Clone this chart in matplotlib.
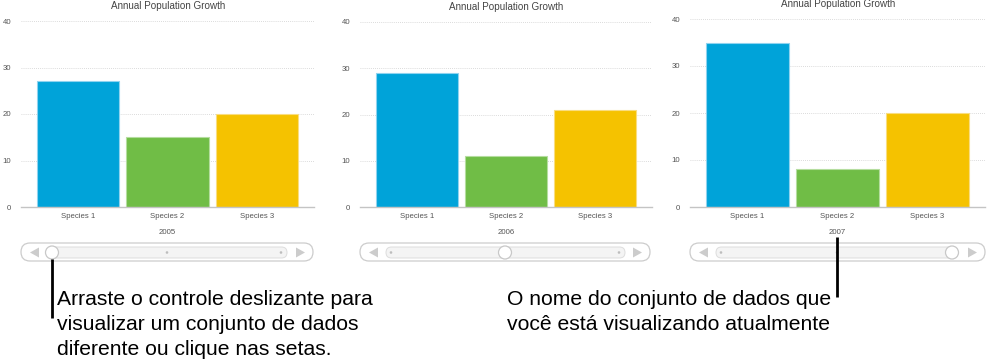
import matplotlib.pyplot as plt
from matplotlib.patches import FancyBboxPatch, Circle, Polygon

plt.rcParams['font.family'] = ['Liberation Sans', 'DejaVu Sans']

W, H = 992, 364

species = ["Species 1", "Species 2", "Species 3"]
years = ["2005", "2006", "2007"]
growth = [
    [27, 15, 20],
    [29, 11, 21],
    [35, 8, 20],
]
y_ticks = [0, 10, 20, 30, 40]
title = "Annual Population Growth"
colors = ["#00a3d9", "#70bd46", "#f5c200"]
edges = ["#8fd3ef", "#b5dd9f", "#f9dd80"]

# panel boxes in pixels: left, right, top(y of 40), bottom(y of 0), title y
panels = [
    (21, 314, 21, 207, 6),
    (360, 652, 22, 207, 7),
    (690, 985, 19, 207, 4),
]
# slider: outer left/right, track left/right, knob x, dots, year x
sliders = [
    (21, 313, 48, 287, 52, [167, 281], 167),
    (360, 650, 386, 625, 505, [391, 619], 506),
    (690, 985, 716, 958, 952, [721, 837], 837),
]


def fig_rect(l, r, t, b):
    return [l / W, 1 - b / H, (r - l) / W, (b - t) / H]


fig = plt.figure(figsize=(W / 100, H / 100), dpi=100)

for i, (l, r, t, b, ty) in enumerate(panels):
    ax = fig.add_axes(fig_rect(l, r, t, b))
    ax.bar(range(3), growth[i], width=0.92, color=colors, edgecolor=edges,
           linewidth=0.8, zorder=3)
    ax.set_xlim(-0.64, 2.64)
    ax.set_ylim(0, 40)
    ax.set_yticks(y_ticks)
    ax.set_xticks(range(3))
    ax.set_xticklabels(species)
    ax.tick_params(length=0, labelsize=5.6, colors="#555555")
    ax.tick_params(axis="y", pad=7)
    ax.tick_params(axis="x", pad=4)
    ax.grid(axis="y", linestyle=(0, (1, 1.5)), color="#cfcfcf", linewidth=0.6, zorder=0)
    for s in ["top", "left", "right"]:
        ax.spines[s].set_visible(False)
    ax.spines["bottom"].set_color("#c4c4c4")
    ax.spines["bottom"].set_linewidth(1.0)
    ax.spines["bottom"].set_zorder(4)
    ax.set_facecolor("none")

ov = fig.add_axes([0, 0, 1, 1])
ov.set_xlim(0, W)
ov.set_ylim(H, 0)
ov.axis("off")
ov.set_facecolor("none")

for i, (l, r, t, b, ty) in enumerate(panels):
    ov.text((l + r) / 2 + 0.5, ty, title, ha="center", va="center",
            fontsize=7.1, color="#444444")

for i, (ol, orr, tl, tr, kx, dots, yx) in enumerate(sliders):
    ov.text(yx, 232, years[i], ha="center", va="center", fontsize=5.6, color="#555555")
    ov.add_patch(FancyBboxPatch((ol, 243), orr - ol, 18,
                                boxstyle="round,pad=0,rounding_size=9",
                                facecolor="white", edgecolor="#cccccc", linewidth=0.9))
    ov.add_patch(FancyBboxPatch((tl, 247), tr - tl, 11,
                                boxstyle="round,pad=0,rounding_size=5.5",
                                facecolor="#f4f4f4", edgecolor="#dddddd", linewidth=0.7))
    for d in dots:
        ov.add_patch(Circle((d, 252.5), 1.3, facecolor="#bdbdbd", edgecolor="none"))
    ax_l = ol + 14
    ov.add_patch(Polygon([[ax_l - 5, 252.5], [ax_l + 4, 247.5], [ax_l + 4, 257.5]],
                         closed=True, facecolor="#cccccc", edgecolor="none"))
    ax_r = orr - 13
    ov.add_patch(Polygon([[ax_r + 5, 252.5], [ax_r - 4, 247.5], [ax_r - 4, 257.5]],
                         closed=True, facecolor="#cccccc", edgecolor="none"))
    ov.add_patch(Circle((kx, 252.5), 6.5, facecolor="white", edgecolor="#c8c8c8",
                        linewidth=0.9, zorder=5))

# callouts
ov.plot([52, 52], [259, 318], color="black", linewidth=2, solid_capstyle="butt", zorder=6)
ov.plot([837, 837], [237, 297], color="black", linewidth=2, solid_capstyle="butt", zorder=6)

left_lines = ["Arraste o controle deslizante para",
              "visualizar um conjunto de dados",
              "diferente ou clique nas setas."]
right_lines = ["O nome do conjunto de dados que",
               "você está visualizando atualmente"]
for k, s in enumerate(left_lines):
    ov.text(57, 305 + 25 * k, s, ha="left", va="baseline", fontsize=15.2, color="black")
for k, s in enumerate(right_lines):
    ov.text(507, 305 + 25 * k, s, ha="left", va="baseline", fontsize=15.2, color="black")

fig.savefig("out.png", dpi=100)
